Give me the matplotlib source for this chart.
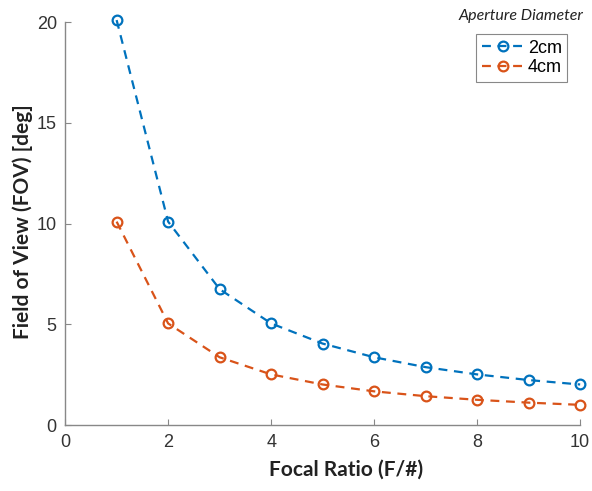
import matplotlib
matplotlib.use("Agg")
import matplotlib.pyplot as plt

focal_ratio = [1, 2, 3, 4, 5, 6, 7, 8, 9, 10]
fov_2cm = [20.1, 10.1, 6.75, 5.05, 4.05, 3.37, 2.88, 2.52, 2.24, 2.02]
fov_4cm = [10.1, 5.05, 3.37, 2.52, 2.02, 1.68, 1.44, 1.26, 1.12, 1.01]
series_labels = ["2cm", "4cm"]
colors = ["#0072BD", "#D95319"]

fig = plt.figure(figsize=(5.92, 4.91), dpi=100)
ax = fig.add_axes([0.11, 0.134, 0.87, 0.821])

for y, lab, c in zip([fov_2cm, fov_4cm], series_labels, colors):
    ax.plot(focal_ratio, y, linestyle=(0, (4, 3)), color=c, lw=1.6,
            marker='o', markersize=7, markerfacecolor='none',
            markeredgewidth=1.6, label=lab, clip_on=False)

ax.set_xlim(0, 10)
ax.set_ylim(0, 20)
ax.set_xticks([0, 2, 4, 6, 8, 10])
ax.set_yticks([0, 5, 10, 15, 20])
for s in ['top', 'right']:
    ax.spines[s].set_visible(False)
for s in ['left', 'bottom']:
    ax.spines[s].set_color('#888888')
    ax.spines[s].set_linewidth(1.0)
ax.tick_params(direction='in', length=4, color='#888888', labelcolor='#333333',
               labelsize=13, pad=6)
for t in ax.get_xticklabels() + ax.get_yticklabels():
    t.set_fontfamily('Liberation Sans')

ax.set_xlabel("Focal Ratio (F/#)", fontsize=15, fontweight='bold',
              fontfamily='Lato', color='#222222')
ax.set_ylabel("Field of View (FOV) [deg]", fontsize=15, fontweight='bold',
              fontfamily='Lato', color='#222222')
ax.xaxis.set_label_coords(0.545, -0.085)
ax.yaxis.set_label_coords(-0.062, 0.505)

leg = ax.legend(loc='upper right', bbox_to_anchor=(0.975, 0.97),
                prop={'family': 'Liberation Sans', 'size': 13},
                handlelength=2.4, handletextpad=0.15, borderpad=0.3,
                labelspacing=0.15, fancybox=False, framealpha=1,
                edgecolor='#888888', borderaxespad=0)
leg.get_frame().set_linewidth(0.8)

fig.text(0.88, 0.967, "Aperture Diameter", ha='center', va='center',
         fontsize=11.5, fontstyle='italic', fontfamily='Lato', color='#222222')

fig.savefig("out.png", dpi=100)
